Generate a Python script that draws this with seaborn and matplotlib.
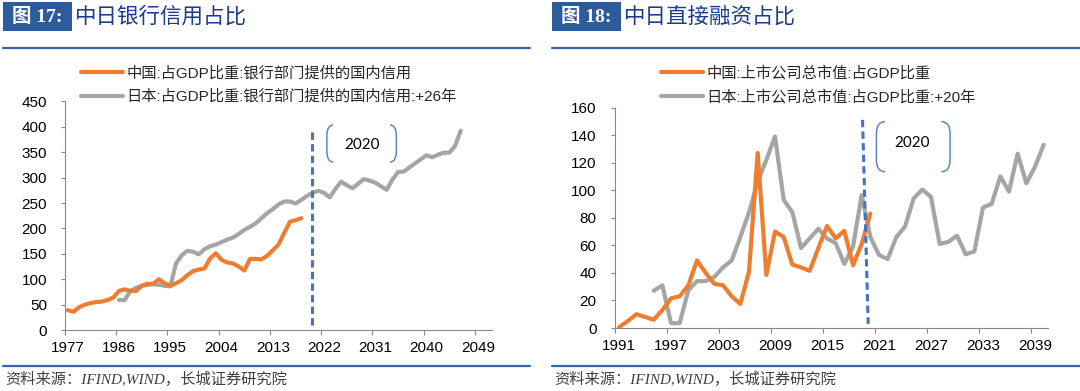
import matplotlib
matplotlib.use('Agg')
import matplotlib.pyplot as plt
import numpy as np
import pandas as pd
import seaborn as sns
from matplotlib.patches import Rectangle, PathPatch
from matplotlib.path import Path
from matplotlib.lines import Line2D

# ---- left panel: bank credit as % of GDP ----
cn_credit_years = list(range(1977, 2019))
cn_credit = [39, 36, 45, 50, 53, 55, 56, 59, 64, 77, 80, 77, 77, 87, 91, 91, 100, 92,
             87, 92, 98, 108, 116, 119, 121, 141, 151, 138, 133, 131, 125, 117, 140,
             140, 139, 146, 157, 168, 191, 213, 216, 220]
jp_credit_years = list(range(1986, 2047))   # Japan 1960-2020 shifted +26 years
jp_credit = [59, 59, 77, 83, 87, 89, 90, 89, 87, 86,
             131, 147, 156, 154, 149, 159, 165, 168, 173, 178,
             182, 189, 197, 203, 210, 220, 230, 238, 247, 253,
             253, 249, 256, 264, 270, 274, 270, 261, 278, 292,
             285, 279, 288, 297, 294, 290, 283, 276, 296, 311,
             312, 320, 328, 336, 344, 340, 345, 349, 349, 362,
             392]
left_labels = ['中国:占GDP比重:银行部门提供的国内信用',
               '日本:占GDP比重:银行部门提供的国内信用:+26年']
left_xticks = [1977, 1986, 1995, 2004, 2013, 2022, 2031, 2040, 2049]
left_yticks = [0, 50, 100, 150, 200, 250, 300, 350, 400, 450]

# ---- right panel: listed market cap as % of GDP ----
cn_mcap_years = list(range(1991, 2021))
cn_mcap = [0.5, 5, 10, 8, 6, 13, 21.5, 23, 31, 49, 40, 32, 31, 23, 17.5, 41, 127,
           38.5, 70, 66, 46, 44, 41.5, 58, 74, 65, 70.5, 45.5, 61, 83]
jp_mcap_years = list(range(1995, 2041))     # Japan 1975-2020 shifted +20 years
jp_mcap = [27, 31, 3.5, 3.5, 27.5, 34, 34, 37, 44, 49,
           66, 84, 106, 122, 139, 93, 84, 58, 65, 72,
           65, 61.5, 46.5, 59, 96.5, 66, 53, 50, 66, 73.5,
           94, 100.5, 95, 61, 62.5, 67, 53.5, 55.5, 87.5, 90,
           110, 99, 126.5, 105, 117, 133]
right_labels = ['中国:上市公司总市值:占GDP比重',
                '日本:上市公司总市值:占GDP比重:+20年']
right_xticks = [1991, 1997, 2003, 2009, 2015, 2021, 2027, 2033, 2039]
right_yticks = [0, 20, 40, 60, 80, 100, 120, 140, 160]

ORANGE = '#ED7D31'
GRAY = '#A5A5A5'
DASH_BLUE = '#4472C4'
BRACKET_BLUE = '#5B87C5'
AXIS_GRAY = '#888888'

sns.set_theme(style='white')
plt.rcParams['font.family'] = ['Liberation Sans', 'Noto Sans CJK SC']
plt.rcParams['axes.unicode_minus'] = False

W, H = 1080, 391
fig = plt.figure(figsize=(W / 100, H / 100), dpi=100)
fig.patch.set_facecolor('white')


def px_box(x0, y_bottom, x1, y_top):
    return [x0 / W, 1 - y_bottom / H, (x1 - x0) / W, (y_bottom - y_top) / H]


def bracket_pair(ax, x0, x1, y0, y1, rx, ry):
    left = [(x0 + rx, y1), (x0, y1), (x0, y1 - ry), (x0, y0 + ry), (x0, y0), (x0 + rx, y0)]
    right = [(x1 - rx, y1), (x1, y1), (x1, y1 - ry), (x1, y0 + ry), (x1, y0), (x1 - rx, y0)]
    codes = [Path.MOVETO, Path.CURVE3, Path.CURVE3, Path.LINETO, Path.CURVE3, Path.CURVE3]
    for v in (left, right):
        ax.add_patch(PathPatch(Path(v, codes), fill=False, edgecolor=BRACKET_BLUE,
                               lw=1.1, clip_on=False))


def style_axes(ax, xticks, xlim, yticks, ylim):
    ax.set_xlim(*xlim)
    ax.set_ylim(*ylim)
    ax.set_xticks(xticks)
    ax.set_xticklabels([str(t) for t in xticks])
    ax.set_xticks([t - 0.5 for t in xticks], minor=True)
    ax.set_yticks(yticks)
    ax.set_yticklabels([str(t) for t in yticks])
    for s in ['top', 'right']:
        ax.spines[s].set_visible(False)
    for s in ['left', 'bottom']:
        ax.spines[s].set_color(AXIS_GRAY)
        ax.spines[s].set_linewidth(0.8)
    ax.tick_params(axis='x', which='major', length=0, pad=8, labelsize=11, labelcolor='black')
    ax.tick_params(axis='x', which='minor', length=3.5, width=0.8, color=AXIS_GRAY,
                   direction='out', bottom=True)
    ax.tick_params(axis='y', which='major', length=3, width=0.8, color=AXIS_GRAY,
                   direction='out', left=True, pad=10, labelsize=11, labelcolor='black')
    ax.set_xlabel('')
    ax.set_ylabel('')
    ax.grid(False)


def draw_panel(rect, cn_years, cn_vals, jp_years, jp_vals, labels):
    ax = fig.add_axes(rect)
    df = pd.concat([
        pd.DataFrame({'year': cn_years, 'value': cn_vals, 'series': labels[0]}),
        pd.DataFrame({'year': jp_years, 'value': jp_vals, 'series': labels[1]}),
    ])
    sns.lineplot(data=df, x='year', y='value', hue='series',
                 palette={labels[0]: ORANGE, labels[1]: GRAY},
                 hue_order=[labels[1], labels[0]], lw=3, ax=ax, legend=False)
    return ax


# left panel
axL = draw_panel(px_box(65, 330, 492, 101.4), cn_credit_years, cn_credit,
                 jp_credit_years, jp_credit, left_labels)
style_axes(axL, left_xticks, (1976.5, 2051.5), left_yticks, (0, 450))
axL.plot([2019.8, 2019.8], [390, 3], color=DASH_BLUE, lw=2.2, dashes=(2.4, 1.4))
bracket_pair(axL, 2022.5, 2034.7, 330.7, 403.5, 1.1, 22)
axL.text(2028.6, 364, '2020', family='Lato', fontsize=11, ha='center', va='center',
         color='black')

# right panel
axR = draw_panel(px_box(614.7, 328, 1048, 107.5), cn_mcap_years, cn_mcap,
                 jp_mcap_years, jp_mcap, right_labels)
style_axes(axR, right_xticks, (1990.5, 2040.5), right_yticks, (0, 160))
axR.plot([2019.1, 2019.75], [151, 3], color=DASH_BLUE, lw=2.2, dashes=(2.4, 1.4))
bracket_pair(axR, 2020.7, 2029.2, 113.4, 149.7, 1.0, 8.5)
axR.text(2024.85, 134.6, '2020', family='Lato', fontsize=11, ha='center', va='center',
         color='black')

# legends
for ax, labels, x0 in [(axL, left_labels, 81), (axR, right_labels, 661)]:
    handles = [Line2D([], [], color=ORANGE, lw=3), Line2D([], [], color=GRAY, lw=3)]
    ax.legend(handles, labels, loc='upper left', bbox_to_anchor=(x0 / W, 1 - 66 / H),
              bbox_transform=fig.transFigure, frameon=False, fontsize=11,
              handlelength=2.75, handletextpad=0.2, labelspacing=0.58, borderpad=0,
              borderaxespad=0, labelcolor='#262626')

# headers
HEAD_BLUE = '#2D5C9C'
TITLE_BLUE = '#1A3C8C'
LINE_BLUE = '#3A64A8'
for bx0, bx1, num, title, lx0, lx1 in [(2.8, 71.6, '图 17:', '中日银行信用占比', 3, 530),
                                        (552, 620.6, '图 18:', '中日直接融资占比', 552, 1080)]:
    fig.patches.append(Rectangle((bx0 / W, 1 - 31 / H), (bx1 - bx0) / W, 29.3 / H,
                                 transform=fig.transFigure, facecolor=HEAD_BLUE,
                                 edgecolor='none'))
    fig.text((bx0 + bx1) / 2 / W, 1 - 16.5 / H, num, color='white', fontsize=14,
             fontweight='bold', ha='center', va='center',
             family=['Liberation Serif', 'Noto Sans CJK SC'])
    fig.text((bx1 + 3) / W, 1 - 16.5 / H, title, color=TITLE_BLUE, fontsize=15.5,
             ha='left', va='center', family=['Noto Sans CJK SC'])
    fig.add_artist(Line2D([lx0 / W, lx1 / W], [1 - 47.5 / H] * 2, color=LINE_BLUE, lw=1.6))
    fig.add_artist(Line2D([lx0 / W, lx1 / W], [1 - 366 / H] * 2, color=LINE_BLUE, lw=1.6))
    fig.text((lx0 + 2) / W, 1 - 379 / H, '资料来源：IFIND,WIND，长城证券研究院',
             color='#404040', fontsize=11, style='italic', ha='left', va='center',
             family=['Liberation Serif', 'Noto Sans CJK SC'])

fig.savefig('out.png', dpi=100, facecolor='white')
